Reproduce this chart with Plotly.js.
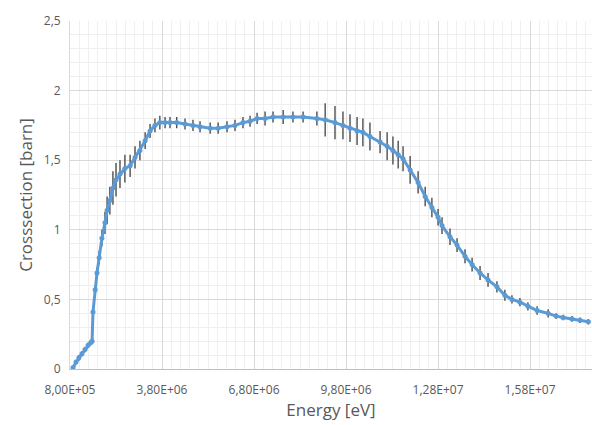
<!DOCTYPE html>
<html><head><meta charset="utf-8">
<script src="https://cdn.plot.ly/plotly-3.0.1.min.js"></script>
<style>html,body{margin:0;padding:0;background:#fff;}</style>
</head><body><div id="chart" style="width:592px;height:425px;"></div>
<script>
const energy = [0.898e6,0.996e6,1.09e6,1.19e6,1.29e6,1.39e6,1.48e6,1.52e6,1.55e6,1.62e6,1.68e6,1.75e6,1.84e6,1.94e6,2.01e6,2.10e6,2.20e6,2.30e6,2.43e6,2.59e6,2.76e6,2.92e6,3.08e6,3.25e6,3.41e6,3.57e6,3.73e6,3.90e6,4.06e6,4.28e6,4.55e6,4.81e6,5.04e6,5.37e6,5.63e6,5.92e6,6.18e6,6.44e6,6.67e6,6.90e6,7.16e6,7.42e6,7.75e6,8.07e6,8.40e6,8.85e6,9.12e6,9.44e6,9.70e6,9.93e6,10.16e6,10.35e6,10.58e6,10.91e6,11.14e6,11.33e6,11.50e6,11.66e6,11.89e6,12.15e6,12.38e6,12.60e6,12.80e6,12.93e6,13.19e6,13.42e6,13.68e6,13.91e6,14.17e6,14.43e6,14.72e6,14.98e6,15.21e6,15.47e6,15.73e6,16.03e6,16.39e6,16.65e6,16.88e6,17.17e6,17.43e6,17.70e6];
const xsec = [0.01,0.05,0.08,0.11,0.14,0.17,0.19,0.20,0.41,0.57,0.69,0.80,0.94,1.05,1.14,1.21,1.30,1.36,1.40,1.44,1.46,1.52,1.57,1.64,1.71,1.75,1.77,1.77,1.77,1.77,1.76,1.75,1.74,1.73,1.73,1.74,1.75,1.77,1.78,1.80,1.80,1.81,1.81,1.81,1.81,1.80,1.79,1.77,1.75,1.73,1.71,1.70,1.67,1.63,1.60,1.57,1.54,1.51,1.43,1.34,1.24,1.16,1.09,1.03,0.95,0.89,0.81,0.75,0.69,0.64,0.59,0.53,0.50,0.48,0.45,0.42,0.40,0.38,0.37,0.36,0.35,0.34];
const xsecErr = [0.01,0.01,0.02,0.02,0.02,0.02,0.02,0.02,0.03,0.03,0.04,0.05,0.06,0.08,0.10,0.10,0.12,0.12,0.10,0.10,0.08,0.08,0.07,0.06,0.05,0.05,0.05,0.04,0.04,0.04,0.04,0.04,0.04,0.04,0.04,0.04,0.04,0.04,0.04,0.04,0.05,0.04,0.05,0.04,0.04,0.05,0.12,0.12,0.10,0.10,0.10,0.10,0.10,0.08,0.10,0.10,0.10,0.09,0.10,0.08,0.07,0.07,0.06,0.06,0.06,0.05,0.05,0.05,0.05,0.05,0.04,0.04,0.03,0.03,0.03,0.03,0.03,0.02,0.02,0.02,0.02,0.02];
const xTickVals = [0.8e6,3.8e6,6.8e6,9.8e6,12.8e6,15.8e6];
const xTickText = ["8,00E+05","3,80E+06","6,80E+06","9,80E+06","1,28E+07","1,58E+07"];
const yTickVals = [0,0.5,1,1.5,2,2.5];
const yTickText = ["0","0,5","1","1,5","2","2,5"];

const font = {family:"Open Sans, sans-serif", color:"#595959"};
Plotly.newPlot("chart", [{
  x: energy, y: xsec, type:"scatter", mode:"lines+markers",
  line:{color:"#5B9BD5", width:3},
  marker:{color:"#5B9BD5", size:5},
  error_y:{type:"data", array:xsecErr, visible:true, color:"#404040", thickness:1.3, width:0},
  hoverinfo:"skip"
}], {
  width:592, height:425,
  margin:{l:70, r:0, t:21, b:56},
  paper_bgcolor:"#fff", plot_bgcolor:"#fff",
  showlegend:false,
  font: Object.assign({size:12}, font),
  xaxis:{
    range:[0.8e6, 17.82e6], tickvals:xTickVals, ticktext:xTickText,
    showgrid:true, gridcolor:"#d9d9d9", gridwidth:1,
    minor:{dtick:3e5, tick0:0.8e6, showgrid:true, gridcolor:"#efefef", gridwidth:1},
    showline:true, linecolor:"#bfbfbf", linewidth:1, zeroline:false,
    ticks:"outside", ticklen:10, tickwidth:1, tickcolor:"rgba(255,255,255,0)",
    tickfont:Object.assign({size:12}, font),
    title:{text:"Energy [eV]", font:Object.assign({size:17}, font), standoff:2}
  },
  yaxis:{
    range:[0,2.5], tickvals:yTickVals, ticktext:yTickText,
    showgrid:true, gridcolor:"#d9d9d9", gridwidth:1,
    minor:{dtick:0.1, showgrid:true, gridcolor:"#efefef", gridwidth:1},
    showline:true, linecolor:"#d9d9d9", linewidth:1, zeroline:false,
    ticks:"outside", ticklen:6, tickwidth:1, tickcolor:"rgba(255,255,255,0)",
    tickfont:Object.assign({size:12}, font),
    title:{text:"Crosssection [barn]", font:Object.assign({size:17}, font), standoff:6}
  }
}, {staticPlot:true});
</script></body></html>
